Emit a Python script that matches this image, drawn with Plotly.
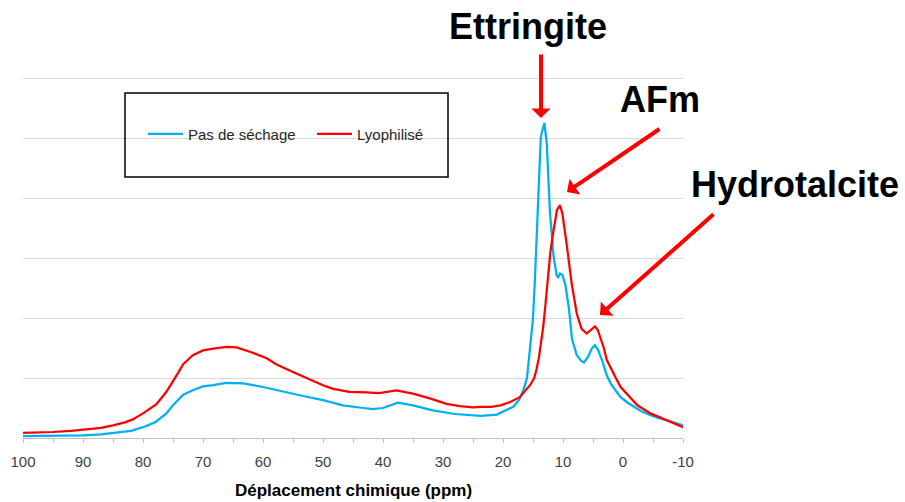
import plotly.graph_objects as go

# Pas de séchage (blue)
ppm_blue = [100, 95, 90, 87, 85, 82, 80, 78, 76.1, 75, 73.3, 71.7, 70, 68.3, 66.1, 63.3, 60, 56.7,
            53.3, 50, 46.7, 43.3, 41.7, 40, 38.5, 37.5, 35, 31.7, 28, 25, 23.7, 21, 20.4, 18.3, 17.3,
            16.6, 16.0, 15.5, 15.0, 14.7, 14.1, 13.7, 13.4, 13.1, 12.7, 12.2, 11.6, 11.05, 10.8, 10.5,
            10.1, 9.6, 9.0, 8.5, 7.7, 7.0, 6.5, 5.8, 5.2, 4.7, 4.2, 3.5, 2.7, 2.0, 1.3, 0.4, -0.9, -1.8,
            -3, -4.6, -6, -7.4, -9, -10]
int_blue = [0.03, 0.035, 0.045, 0.06, 0.08, 0.12, 0.18, 0.26, 0.41, 0.545, 0.72, 0.795, 0.86, 0.88,
            0.92, 0.91, 0.85, 0.77, 0.70, 0.63, 0.545, 0.50, 0.48, 0.50, 0.56, 0.59, 0.545, 0.46, 0.40,
            0.38, 0.37, 0.39, 0.42, 0.52, 0.64, 0.80, 1.0, 1.45, 2.0, 2.6, 4.0, 5.02, 5.14, 5.25, 4.9,
            3.8, 3.05, 2.71, 2.68, 2.74, 2.72, 2.55, 2.15, 1.65, 1.38, 1.29, 1.26, 1.36, 1.49, 1.545,
            1.48, 1.30, 1.04, 0.90, 0.80, 0.68, 0.58, 0.52, 0.45, 0.38, 0.33, 0.295, 0.24, 0.21]

# Lyophilisé (red)
ppm_red = [100, 97, 95, 92, 90, 87, 85, 83, 81.7, 80, 77.8, 76.1, 74.4, 73.3, 71.7, 70, 68.3, 66.1,
           64.4, 61.7, 59.4, 57.8, 55, 52.2, 50, 48.3, 45.6, 42.8, 40.6, 37.8, 35, 32.2, 29.4, 27.2,
           25, 23.7, 22, 20.4, 18.8, 17.2, 16.5, 15.5, 14.8, 14.4, 14.0, 13.6, 13.3, 12.9, 12.5, 12.1,
           11.6, 11.0, 10.5, 10.1, 9.4, 8.55, 7.7, 6.9, 6.05, 5.4, 4.67, 4.2, 3.8, 3.2, 2.7, 2.0, 1.3,
           0.4, -0.9, -2.4, -4.6, -6, -7.4, -9, -10]
int_red = [0.085, 0.09, 0.10, 0.12, 0.14, 0.17, 0.21, 0.26, 0.31, 0.41, 0.56, 0.77, 1.045, 1.23, 1.38,
           1.46, 1.49, 1.52, 1.51, 1.42, 1.33, 1.23, 1.10, 0.97, 0.88, 0.82, 0.77, 0.76, 0.75, 0.795,
           0.74, 0.66, 0.57, 0.53, 0.51, 0.52, 0.52, 0.545, 0.60, 0.68, 0.77, 0.88, 1.0, 1.15, 1.35,
           1.6, 1.85, 2.25, 2.7, 3.1, 3.45, 3.80, 3.88, 3.74, 3.24, 2.57, 2.07, 1.82, 1.74, 1.79, 1.86,
           1.80, 1.68, 1.50, 1.30, 1.15, 1.02, 0.85, 0.70, 0.545, 0.41, 0.35, 0.295, 0.22, 0.18]

x_ticks = [100, 90, 80, 70, 60, 50, 40, 30, 20, 10, 0, -10]
x_tick_labels = ["100", "90", "80", "70", "60", "50", "40", "30", "20", "10", "0", "-10"]
y_grid = [1, 2, 3, 4, 5, 6]

series_names = ["Pas de séchage", "Lyophilisé"]
peak_labels = ["Ettringite", "AFm", "Hydrotalcite"]

FONT = "Liberation Sans, Arial, sans-serif"
BLUE = "#00b0f0"
RED = "#ff0000"

# plot area in pixels
L, R, T, B = 23, 683, 75, 438
PW, PH = R - L, B - T


def px(xp):
    return (xp - L) / PW


def py(yp):
    return (B - yp) / PH


fig = go.Figure()
fig.add_trace(go.Scatter(x=ppm_blue, y=int_blue, mode="lines", name=series_names[0],
                         line=dict(color=BLUE, width=2.25)))
fig.add_trace(go.Scatter(x=ppm_red, y=int_red, mode="lines", name=series_names[1],
                         line=dict(color=RED, width=2.25)))

fig.update_layout(
    width=905, height=502,
    margin=dict(l=L, r=905 - R, t=T, b=502 - B),
    paper_bgcolor="white", plot_bgcolor="white",
    font=dict(family=FONT, color="#404040"),
    hovermode=False,
    showlegend=True,
    legend=dict(orientation="h", x=px(143), y=py(134), xanchor="left", yanchor="middle",
                bgcolor="rgba(0,0,0,0)", borderwidth=0,
                font=dict(family=FONT, size=15, color="#262626"),
                entrywidth=119, entrywidthmode="pixels", itemwidth=35),
    xaxis=dict(range=[100, -10], tickmode="array", tickvals=x_ticks, ticktext=x_tick_labels,
               automargin=False,
               showgrid=False, zeroline=False, showline=True, linecolor="#bfbfbf", linewidth=1,
               ticks="outside", ticklen=4, tickcolor="#bfbfbf", tickwidth=1,
               tickfont=dict(family=FONT, size=15, color="#404040"),
               ticklabelstandoff=6,
               minor=dict(dtick=5, tick0=0, ticks="outside", ticklen=4, tickcolor="#bfbfbf",
                          showgrid=False)),
    yaxis=dict(range=[0, 6.05], tickmode="array", tickvals=y_grid, automargin=False,
               showgrid=True, gridcolor="#d9d9d9", gridwidth=1,
               zeroline=False, showline=False, showticklabels=False, ticks=""),
)

# legend frame
fig.add_shape(type="rect", xref="paper", yref="paper",
              x0=px(125), x1=px(448), y0=py(177), y1=py(93),
              line=dict(color="black", width=1.5), fillcolor="rgba(0,0,0,0)", layer="above")

# axis title
fig.add_annotation(text="<b>Déplacement chimique (ppm)</b>", xref="paper", yref="paper",
                   x=0.5, y=py(490), xanchor="center", yanchor="middle",
                   showarrow=False, font=dict(family=FONT, size=17, color="black"))

# peak labels
label_pos = [(px(528), py(26)), (px(660), py(99)), (px(795), py(184))]
for txt, (lx, ly) in zip(peak_labels, label_pos):
    fig.add_annotation(text="<b>" + txt + "</b>", xref="paper", yref="paper", x=lx, y=ly,
                       xanchor="center", yanchor="middle", showarrow=False,
                       font=dict(family=FONT, size=36, color="black"))

# arrows (tip, tail offset in px)
arrows = [(px(541), py(118), 0, -65),
          (px(567), py(192), 94, -64),
          (px(600), py(315), 115, -102)]
for tx, ty, axp, ayp in arrows:
    fig.add_annotation(text="", xref="paper", yref="paper", x=tx, y=ty, ax=axp, ay=ayp,
                       axref="pixel", ayref="pixel", showarrow=True, arrowhead=1,
                       arrowsize=0.8, arrowwidth=4, arrowcolor=RED, standoff=0)

fig.write_html("out.html", config={"displayModeBar": False},
               post_script="document.body.style.margin='0';document.body.style.padding='0';")
